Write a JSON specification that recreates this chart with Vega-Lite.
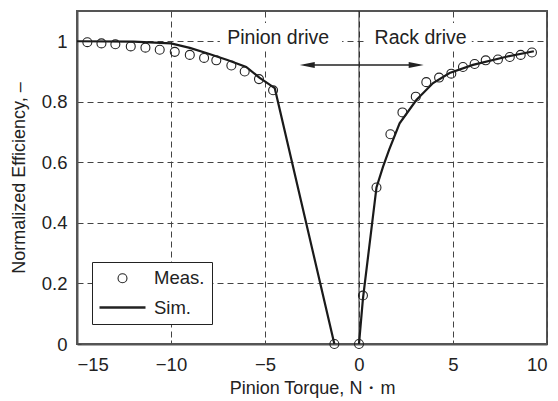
{
  "$schema": "https://vega.github.io/schema/vega-lite/v6.json",
  "width": 470,
  "height": 333,
  "autosize": "none",
  "padding": {"left": 77, "top": 11, "right": 11, "bottom": 57},
  "background": "white",
  "config": {
    "font": "Liberation Sans",
    "view": {"stroke": "#555", "strokeWidth": 2},
    "axis": {
      "domainColor": "#555",
      "domainWidth": 2,
      "gridColor": "#444",
      "gridDash": [6, 4],
      "gridWidth": 1,
      "tickColor": "#444",
      "labelColor": "#222",
      "titleColor": "#222",
      "labelFont": "Liberation Sans",
      "titleFont": "Liberation Sans",
      "labelFontSize": 18.5,
      "titleFontSize": 18,
      "titleFontWeight": "normal"
    }
  },
  "datasets": {
    "meas": [
      {"t": -14.45, "eff": 0.997, "series": "Meas."},
      {"t": -13.7, "eff": 0.993, "series": "Meas."},
      {"t": -12.96, "eff": 0.99, "series": "Meas."},
      {"t": -12.14, "eff": 0.983, "series": "Meas."},
      {"t": -11.36, "eff": 0.979, "series": "Meas."},
      {"t": -10.6, "eff": 0.972, "series": "Meas."},
      {"t": -9.8, "eff": 0.965, "series": "Meas."},
      {"t": -9.0, "eff": 0.955, "series": "Meas."},
      {"t": -8.24, "eff": 0.945, "series": "Meas."},
      {"t": -7.59, "eff": 0.937, "series": "Meas."},
      {"t": -6.79, "eff": 0.92, "series": "Meas."},
      {"t": -6.08, "eff": 0.9, "series": "Meas."},
      {"t": -5.32, "eff": 0.875, "series": "Meas."},
      {"t": -4.57, "eff": 0.838, "series": "Meas."},
      {"t": -1.31, "eff": 0.0, "series": "Meas."},
      {"t": 0.0, "eff": 0.0, "series": "Meas."},
      {"t": 0.21, "eff": 0.16, "series": "Meas."},
      {"t": 0.93, "eff": 0.517, "series": "Meas."},
      {"t": 1.67, "eff": 0.693, "series": "Meas."},
      {"t": 2.31, "eff": 0.765, "series": "Meas."},
      {"t": 3.02, "eff": 0.817, "series": "Meas."},
      {"t": 3.58, "eff": 0.865, "series": "Meas."},
      {"t": 4.26, "eff": 0.88, "series": "Meas."},
      {"t": 4.91, "eff": 0.893, "series": "Meas."},
      {"t": 5.53, "eff": 0.915, "series": "Meas."},
      {"t": 6.15, "eff": 0.925, "series": "Meas."},
      {"t": 6.74, "eff": 0.937, "series": "Meas."},
      {"t": 7.39, "eff": 0.94, "series": "Meas."},
      {"t": 8.02, "eff": 0.948, "series": "Meas."},
      {"t": 8.6, "eff": 0.955, "series": "Meas."},
      {"t": 9.2, "eff": 0.963, "series": "Meas."}
    ],
    "sim": [
      {"t": -15, "eff": 1.0, "seg": "pinion"},
      {"t": -12, "eff": 0.999, "seg": "pinion"},
      {"t": -10, "eff": 0.993, "seg": "pinion"},
      {"t": -9, "eff": 0.978, "seg": "pinion"},
      {"t": -8, "eff": 0.959, "seg": "pinion"},
      {"t": -7, "eff": 0.938, "seg": "pinion"},
      {"t": -6, "eff": 0.915, "seg": "pinion"},
      {"t": -5.3, "eff": 0.88, "seg": "pinion"},
      {"t": -4.48, "eff": 0.845, "seg": "pinion"},
      {"t": -1.31, "eff": 0.0, "seg": "pinion"},
      {"t": 0.0, "eff": 0.0, "seg": "rack"},
      {"t": 0.21, "eff": 0.15, "seg": "rack"},
      {"t": 0.93, "eff": 0.517, "seg": "rack"},
      {"t": 1.28, "eff": 0.586, "seg": "rack"},
      {"t": 1.6, "eff": 0.641, "seg": "rack"},
      {"t": 2.16, "eff": 0.729, "seg": "rack"},
      {"t": 3.05, "eff": 0.806, "seg": "rack"},
      {"t": 3.94, "eff": 0.862, "seg": "rack"},
      {"t": 4.82, "eff": 0.895, "seg": "rack"},
      {"t": 6.06, "eff": 0.922, "seg": "rack"},
      {"t": 7.84, "eff": 0.949, "seg": "rack"},
      {"t": 9.3, "eff": 0.967, "seg": "rack"}
    ]
  },
  "layer": [
    {
      "data": {"values": [{"t": 0, "eff": 0}]},
      "mark": {"type": "point", "opacity": 0},
      "encoding": {
        "x": {"field": "t", "type": "quantitative", "scale": {"domain": [-15, 10], "nice": false},
              "axis": {"values": [-15, -10, -5, 0, 5, 10], "title": "Pinion Torque,  N・m", "grid": true, "tickSize": -4, "labelPadding": 15, "titlePadding": 6}},
        "y": {"field": "eff", "type": "quantitative", "scale": {"domain": [0, 1.1], "nice": false},
              "axis": {"values": [0, 0.2, 0.4, 0.6, 0.8, 1], "format": "~g", "title": "Normalized Efficiency,  –", "grid": true, "tickSize": -4, "labelPadding": 14, "titlePadding": 13}}
      }
    },
    {
      "data": {"values": [
        {"x1": -7.4, "x2": -0.9, "y1": 0.97, "y2": 1.06},
        {"x1": 0.3, "x2": 6.0, "y1": 0.97, "y2": 1.06}
      ]},
      "mark": {"type": "rect", "color": "white"},
      "encoding": {
        "x": {"field": "x1", "type": "quantitative"},
        "x2": {"field": "x2"},
        "y": {"field": "y1", "type": "quantitative"},
        "y2": {"field": "y2"}
      }
    },
    {
      "data": {"values": [{"t": 0}]},
      "mark": {"type": "rule", "color": "#222", "strokeWidth": 1},
      "encoding": {"x": {"field": "t", "type": "quantitative"}}
    },
    {
      "data": {"values": [
        {"t": -4.3, "eff": 1.01, "label": "Pinion drive"},
        {"t": 3.28, "eff": 1.01, "label": "Rack drive"}
      ]},
      "mark": {"type": "text", "fontSize": 19.5, "color": "#222", "baseline": "middle", "align": "center", "font": "Liberation Sans"},
      "encoding": {
        "x": {"field": "t", "type": "quantitative"},
        "y": {"field": "eff", "type": "quantitative"},
        "text": {"field": "label"}
      }
    },
    {
      "data": {"values": [{"a": -2.9, "b": 3.2, "eff": 0.922}]},
      "mark": {"type": "rule", "color": "#222", "strokeWidth": 1.5},
      "encoding": {
        "x": {"field": "a", "type": "quantitative"},
        "x2": {"field": "b"},
        "y": {"field": "eff", "type": "quantitative"}
      }
    },
    {
      "data": {"values": [{"t": -3.15, "eff": 0.922}]},
      "mark": {"type": "point", "filled": true, "color": "#222", "size": 225, "opacity": 1, "shape": "M0,0L2,-0.4L2,0.4Z"},
      "encoding": {
        "x": {"field": "t", "type": "quantitative"},
        "y": {"field": "eff", "type": "quantitative"}
      }
    },
    {
      "data": {"values": [{"t": 3.44, "eff": 0.922}]},
      "mark": {"type": "point", "filled": true, "color": "#222", "size": 225, "opacity": 1, "shape": "M0,0L-2,-0.4L-2,0.4Z"},
      "encoding": {
        "x": {"field": "t", "type": "quantitative"},
        "y": {"field": "eff", "type": "quantitative"}
      }
    },
    {
      "data": {"name": "sim"},
      "mark": {"type": "line", "color": "#1a1a1a", "strokeWidth": 2.2},
      "encoding": {
        "x": {"field": "t", "type": "quantitative"},
        "y": {"field": "eff", "type": "quantitative"},
        "detail": {"field": "seg"}
      }
    },
    {
      "data": {"name": "meas"},
      "mark": {"type": "point", "filled": false, "color": "#222", "opacity": 1},
      "encoding": {
        "x": {"field": "t", "type": "quantitative"},
        "y": {"field": "eff", "type": "quantitative"},
        "shape": {"field": "series", "type": "nominal", "title": null,
                  "scale": {"domain": ["Meas.", "Sim."], "range": ["circle", "M-2.3,0L2.3,0"]},
                  "legend": {"orient": "none", "legendX": 15, "legendY": 251, "strokeColor": "#222", "fillColor": "white",
                             "padding": 7, "rowPadding": 8, "symbolOffset": 12, "labelFontSize": 18.5, "labelFont": "Liberation Sans", "labelColor": "#222", "labelOffset": 20}},
        "size": {"field": "series", "type": "nominal", "title": null,
                 "scale": {"domain": ["Meas.", "Sim."], "range": [80, 400]}},
        "strokeWidth": {"field": "series", "type": "nominal", "title": null,
                        "scale": {"domain": ["Meas.", "Sim."], "range": [1.1, 2.5]}}
      }
    }
  ]
}
